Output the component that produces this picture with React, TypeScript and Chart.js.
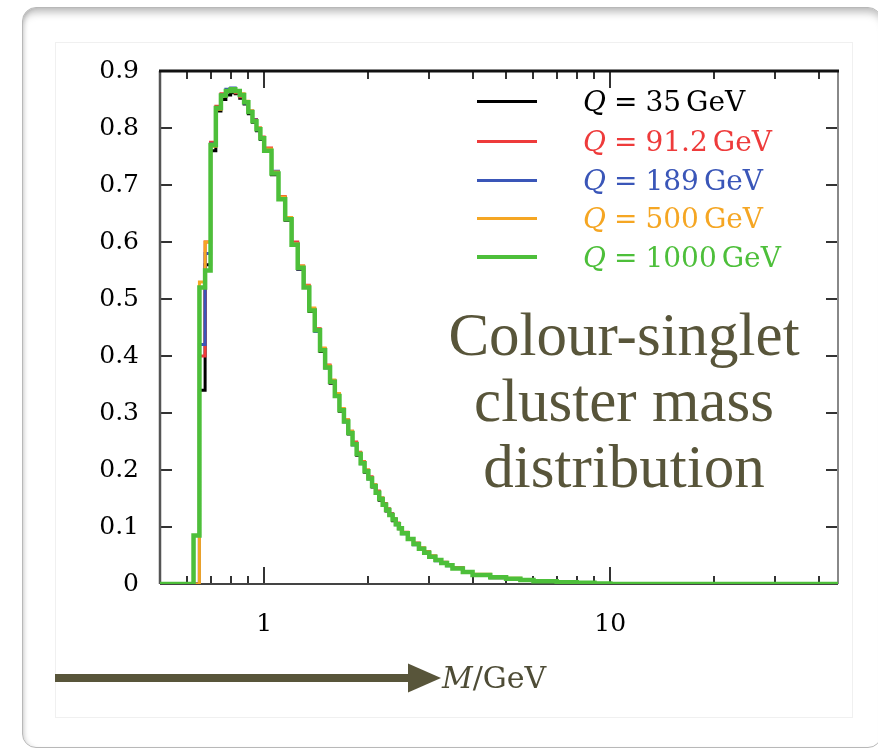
import { useEffect, useRef } from "react";
import { Chart, registerables } from "chart.js";

Chart.register(...registerables);

// ---- data ----
const massBinEdges = [
  0.5, 0.625, 0.65, 0.675, 0.7, 0.725, 0.75, 0.775, 0.8, 0.825, 0.85, 0.875, 0.9, 0.925, 0.95, 0.975,
  1.0, 1.05, 1.1, 1.15, 1.2, 1.25, 1.3, 1.35, 1.4, 1.45, 1.5, 1.55, 1.6, 1.65, 1.7, 1.75, 1.8,
  1.85, 1.9, 1.95, 2.0, 2.05, 2.1, 2.15, 2.2, 2.25, 2.3, 2.35, 2.4, 2.45, 2.5,
  2.6, 2.7, 2.8, 2.9, 3.0, 3.125, 3.25, 3.375, 3.5,
  3.75, 4.0, 4.5, 5.0, 5.5, 6, 7, 8, 9, 10, 45.5,
];

const q35 = [
  0, 0, 0.34, 0.56, 0.76, 0.83, 0.85, 0.858, 0.862, 0.86, 0.852, 0.842, 0.825, 0.81, 0.795, 0.78,
  0.762, 0.718, 0.678, 0.638, 0.598, 0.552, 0.522, 0.478, 0.447, 0.408, 0.382, 0.352, 0.332, 0.303, 0.287, 0.263,
  0.248, 0.226, 0.214, 0.196, 0.187, 0.17, 0.162, 0.147, 0.141, 0.128, 0.123, 0.111, 0.106, 0.097,
  0.09, 0.078, 0.071, 0.061, 0.056, 0.047, 0.043, 0.036, 0.033,
  0.028, 0.02, 0.016, 0.011, 0.009, 0.006, 0.005, 0.003, 0.002, 0.001, 0,
];
const q91 = [
  0, 0, 0.4, 0.6, 0.775, 0.838, 0.86, 0.866, 0.865, 0.862, 0.855, 0.846, 0.83, 0.815, 0.8, 0.784,
  0.765, 0.722, 0.68, 0.642, 0.6, 0.558, 0.524, 0.483, 0.448, 0.413, 0.384, 0.357, 0.333, 0.308, 0.288, 0.268,
  0.249, 0.231, 0.215, 0.2, 0.188, 0.174, 0.163, 0.151, 0.141, 0.132, 0.123, 0.114, 0.107, 0.099,
  0.091, 0.08, 0.072, 0.063, 0.056, 0.049, 0.043, 0.038, 0.033,
  0.028, 0.022, 0.016, 0.012, 0.009, 0.007, 0.005, 0.003, 0.002, 0.001, 0,
];
const q189 = [
  0, 0, 0.42, 0.58, 0.772, 0.836, 0.858, 0.868, 0.87, 0.866, 0.857, 0.844, 0.829, 0.814, 0.797, 0.781,
  0.761, 0.724, 0.676, 0.641, 0.597, 0.553, 0.521, 0.481, 0.443, 0.411, 0.379, 0.356, 0.331, 0.306, 0.284, 0.266,
  0.244, 0.229, 0.211, 0.199, 0.184, 0.173, 0.159, 0.15, 0.138, 0.131, 0.12, 0.114, 0.104, 0.098,
  0.088, 0.079, 0.069, 0.062, 0.054, 0.048, 0.041, 0.037, 0.032,
  0.027, 0.021, 0.016, 0.012, 0.009, 0.007, 0.005, 0.003, 0.002, 0.001, 0,
];
const q500 = [
  0, 0, 0.53, 0.6, 0.768, 0.833, 0.856, 0.864, 0.867, 0.864, 0.86, 0.847, 0.83, 0.813, 0.8, 0.783,
  0.763, 0.723, 0.679, 0.643, 0.597, 0.558, 0.523, 0.484, 0.447, 0.414, 0.383, 0.358, 0.334, 0.308, 0.288, 0.268,
  0.247, 0.23, 0.214, 0.2, 0.186, 0.174, 0.161, 0.151, 0.14, 0.131, 0.122, 0.114, 0.106, 0.099,
  0.09, 0.08, 0.071, 0.063, 0.056, 0.049, 0.043, 0.037, 0.033,
  0.028, 0.022, 0.017, 0.012, 0.01, 0.007, 0.005, 0.003, 0.002, 0.001, 0,
];
const q1000 = [
  0, 0.085, 0.52, 0.55, 0.77, 0.835, 0.857, 0.865, 0.868, 0.865, 0.858, 0.845, 0.828, 0.812, 0.798, 0.782,
  0.76, 0.72, 0.675, 0.64, 0.595, 0.555, 0.52, 0.48, 0.445, 0.41, 0.38, 0.355, 0.33, 0.305, 0.285, 0.265,
  0.245, 0.228, 0.212, 0.198, 0.185, 0.172, 0.16, 0.149, 0.139, 0.13, 0.121, 0.113, 0.105, 0.098,
  0.089, 0.079, 0.07, 0.062, 0.055, 0.048, 0.042, 0.037, 0.033,
  0.027, 0.021, 0.016, 0.012, 0.009, 0.007, 0.005, 0.003, 0.002, 0.001, 0,
];

const energies = ["35", "91.2", "189", "500", "1000"];
const seriesValues = [q35, q91, q189, q500, q1000];

const xMajorTicks = [1, 10];
const xMinorTicks = [0.6, 0.7, 0.8, 0.9, 2, 3, 4, 5, 6, 7, 8, 9, 20, 30, 40];
const yTicks = [0, 0.1, 0.2, 0.3, 0.4, 0.5, 0.6, 0.7, 0.8, 0.9];

const annotationLines = ["Colour-singlet", "cluster mass", "distribution"];

// ---- styles ----
const COLORS = ["#000000", "#ee3b3b", "#3a56b8", "#f5a623", "#4dbf3a"];
const WIDTHS = [3, 3, 3, 3, 4.5];
const OLIVE = "rgb(88,85,58)";
const SERIF = "'DejaVu Serif', serif";

const framePlugin = {
  id: "frame",
  beforeDatasetsDraw(chart: any) {
    const { ctx, chartArea: a, scales } = chart;
    const xs = scales.x;
    const ys = scales.y;
    const seg = (x1: number, y1: number, x2: number, y2: number) => {
      ctx.beginPath();
      ctx.moveTo(x1, y1);
      ctx.lineTo(x2, y2);
      ctx.stroke();
    };
    ctx.save();
    ctx.lineCap = "butt";
    ctx.strokeStyle = "#333";
    ctx.lineWidth = 2;
    for (const v of yTicks) {
      const py = Math.round(ys.getPixelForValue(v));
      seg(a.left, py, a.left + 12, py);
      seg(a.right - 12, py, a.right, py);
    }
    for (const v of xMinorTicks) {
      const px = Math.round(xs.getPixelForValue(v));
      seg(px, a.bottom, px, a.bottom - 8);
      seg(px, a.top, px, a.top + 8);
    }
    for (const v of xMajorTicks) {
      const px = Math.round(xs.getPixelForValue(v));
      seg(px, a.bottom, px, a.bottom - 17);
      seg(px, a.top, px, a.top + 17);
    }
    ctx.strokeStyle = "#555";
    ctx.lineWidth = 2.5;
    seg(a.left, a.top, a.left, a.bottom);
    ctx.strokeStyle = "#444";
    ctx.lineWidth = 2;
    seg(a.left, a.bottom, a.right, a.bottom);
    ctx.strokeStyle = "#888";
    ctx.lineWidth = 2;
    seg(a.right, a.top, a.right, a.bottom);
    ctx.strokeStyle = "#111";
    ctx.lineWidth = 3;
    seg(a.left - 1, a.top, a.right + 1, a.top);
    ctx.restore();
  },
};

export default function App() {
  const ref = useRef<HTMLCanvasElement>(null);

  useEffect(() => {
    const datasets = seriesValues.map((vals, s) => ({
      label: `Q = ${energies[s]} GeV`,
      data: massBinEdges.map((x, i) => ({ x, y: vals[Math.min(i, vals.length - 1)] })),
      borderColor: COLORS[s],
      backgroundColor: COLORS[s],
      borderWidth: WIDTHS[s],
      pointRadius: 0,
      stepped: true as const,
      fill: false,
      order: 5 - s,
    }));
    const chart = new Chart(ref.current as HTMLCanvasElement, {
      type: "line",
      data: { datasets },
      plugins: [framePlugin],
      options: {
        responsive: false,
        animation: false,
        layout: { padding: { top: 26, right: 14, left: 0, bottom: 0 } },
        plugins: { legend: { display: false }, tooltip: { enabled: false } },
        scales: {
          x: {
            type: "logarithmic",
            min: 0.5,
            max: 45.5,
            grid: { display: false },
            border: { display: false },
            afterBuildTicks: (s: any) => {
              s.ticks = xMajorTicks.map((v) => ({ value: v }));
            },
            afterFit: (s: any) => {
              s.height = 133;
            },
            ticks: {
              autoSkip: false,
              maxRotation: 0,
              padding: 17,
              color: "#000",
              font: { family: SERIF, size: 25 },
              callback: (v: any) => String(v),
            },
          },
          y: {
            type: "linear",
            min: 0,
            max: 0.9,
            grid: { display: false },
            border: { display: false },
            afterBuildTicks: (s: any) => {
              s.ticks = yTicks.map((v) => ({ value: v }));
            },
            afterFit: (s: any) => {
              s.width = 104;
            },
            ticks: {
              padding: 13,
              color: "#000",
              font: { family: SERIF, size: 25 },
              callback: (v: any) => (Number(v) === 0 ? "0" : Number(v).toFixed(1)),
            },
          },
        },
      },
    });
    return () => chart.destroy();
  }, []);

  const legendTops = [101, 141, 180, 218, 257];

  return (
    <div style={{ position: "absolute", left: 0, top: 0, width: 878, height: 750, overflow: "hidden", background: "#fff" }}>
      <div
        style={{
          position: "absolute",
          left: 22,
          top: 7,
          width: 858,
          height: 739,
          border: "1px solid #b8b8b8",
          borderRadius: 14,
          background: "#fff",
          boxShadow: "inset 0 9px 9px -5px rgba(0,0,0,0.28), inset 4px 0 5px -3px rgba(0,0,0,0.18)",
        }}
      />
      <div
        style={{
          position: "absolute",
          left: 55,
          top: 42,
          width: 796,
          height: 674,
          border: "1px solid #f0f0f0",
          background: "#fff",
        }}
      />
      <canvas ref={ref} width={796} height={674} style={{ position: "absolute", left: 56, top: 43, width: 796, height: 674 }} />

      {energies.map((e, i) => (
        <div
          key={e}
          style={{
            position: "absolute",
            left: 477,
            top: legendTops[i] - 17,
            height: 34,
            display: "flex",
            alignItems: "center",
            fontFamily: SERIF,
            fontSize: 28,
            color: COLORS[i],
            whiteSpace: "nowrap",
          }}
        >
          <div style={{ width: 60, height: i === 4 ? 4 : 3, background: COLORS[i], marginRight: 46 }} />
          <span style={{ fontStyle: "italic" }}>Q</span>
          <span style={{ margin: "0 8px" }}>=</span>
          <span>{e}</span>
          <span style={{ marginLeft: 5 }}>GeV</span>
        </div>
      ))}

      <div
        style={{
          position: "absolute",
          left: 424,
          top: 302,
          width: 400,
          textAlign: "center",
          fontFamily: "'Liberation Serif', serif",
          fontSize: 61,
          lineHeight: "66px",
          color: OLIVE,
        }}
      >
        {annotationLines.map((l) => (
          <div key={l}>{l}</div>
        ))}
      </div>

      <svg style={{ position: "absolute", left: 55, top: 660 }} width={390} height={40}>
        <rect x={0} y={14} width={358} height={8} fill={OLIVE} />
        <polygon points="353,3.5 386,18 353,32.5" fill={OLIVE} />
      </svg>
      <div
        style={{
          position: "absolute",
          left: 442,
          top: 659,
          lineHeight: "38px",
          fontFamily: SERIF,
          fontSize: 30,
          color: "#4e4c36",
          whiteSpace: "nowrap",
        }}
      >
        <span style={{ fontStyle: "italic" }}>M</span>/GeV
      </div>
    </div>
  );
}
